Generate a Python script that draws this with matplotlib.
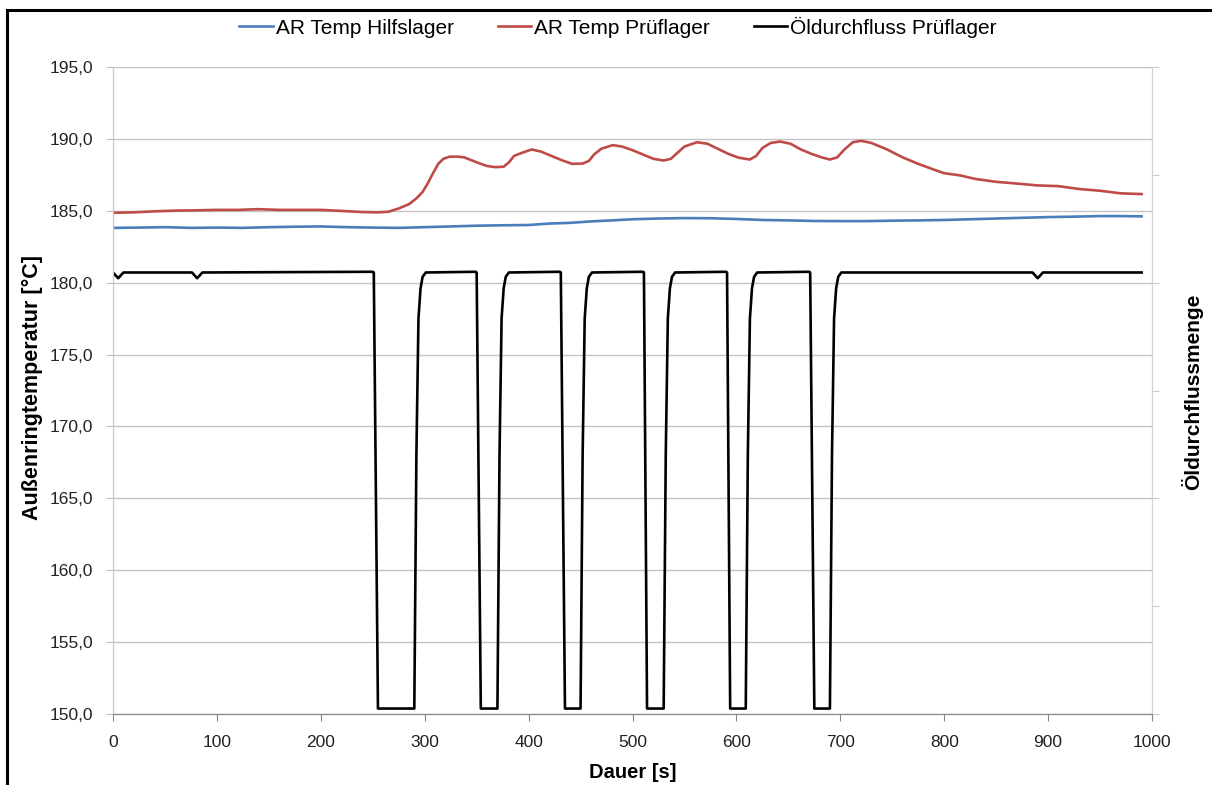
import matplotlib
matplotlib.use("Agg")
import matplotlib.pyplot as plt
from matplotlib.lines import Line2D
import numpy as np

# Messzeitpunkte [s] und Temperaturen [°C]
t_hilf = [0, 25, 50, 75, 100, 125, 150, 175, 200, 225, 250, 275, 300, 325, 350, 375,
          400, 420, 440, 460, 480, 500, 525, 550, 575, 600, 625, 650, 675, 700, 725,
          750, 775, 800, 825, 850, 875, 900, 925, 950, 970, 990]
temp_hilf = [183.8, 183.82, 183.85, 183.8, 183.82, 183.8, 183.85, 183.88, 183.9, 183.85,
             183.82, 183.8, 183.85, 183.9, 183.95, 183.98, 184.0, 184.1, 184.15, 184.25,
             184.32, 184.4, 184.45, 184.48, 184.47, 184.42, 184.35, 184.32, 184.28, 184.27,
             184.27, 184.3, 184.32, 184.35, 184.4, 184.45, 184.5, 184.55, 184.58, 184.62,
             184.62, 184.6]

t_pruef = [0, 20, 40, 60, 80, 100, 120, 140, 160, 180, 200, 220, 240, 255, 265, 275,
           285, 292, 298, 303, 308, 313, 318, 324, 332, 338, 345, 352, 360, 368, 376,
           381, 386, 393, 403, 412, 422, 432, 442, 452, 458, 463, 470, 481, 490, 500,
           510, 520, 530, 537, 543, 550, 562, 572, 582, 592, 602, 613, 619, 625, 633,
           642, 652, 662, 672, 682, 690, 697, 704, 712, 720, 730, 745, 760, 775, 790,
           800, 815, 830, 850, 870, 890, 910, 930, 950, 970, 990]
temp_pruef = [184.85, 184.88, 184.95, 185.0, 185.02, 185.05, 185.05, 185.1, 185.05, 185.05,
              185.05, 184.98, 184.9, 184.88, 184.92, 185.15, 185.45, 185.85, 186.3, 186.9,
              187.6, 188.25, 188.6, 188.75, 188.75, 188.7, 188.5, 188.3, 188.1, 188.02,
              188.05, 188.35, 188.8, 189.0, 189.25, 189.1, 188.8, 188.5, 188.25, 188.27,
              188.45, 188.9, 189.3, 189.55, 189.45, 189.2, 188.9, 188.6, 188.48, 188.6,
              189.0, 189.45, 189.75, 189.65, 189.3, 188.95, 188.68, 188.55, 188.8, 189.35,
              189.7, 189.8, 189.65, 189.25, 188.95, 188.7, 188.55, 188.7, 189.25, 189.75,
              189.85, 189.7, 189.25, 188.7, 188.25, 187.85, 187.6, 187.45, 187.2, 187.0,
              186.88, 186.75, 186.7, 186.5, 186.38, 186.2, 186.15]

# Öldurchfluss Prüflager (Skala wie linke Achse)
t_oel = [0, 5, 10, 76, 81, 86,
         250, 251, 255, 290, 292, 294, 296, 298, 301,
         349, 350, 354, 370, 372, 374, 376, 378, 381,
         430, 431, 435, 450, 452, 454, 456, 458, 461,
         510, 511, 514, 530, 532, 534, 536, 538, 541,
         590, 591, 594, 609, 611, 613, 615, 617, 620,
         670, 671, 675, 690, 692, 694, 696, 698, 701,
         885, 890, 895, 990]
oel = [180.7, 180.3, 180.7, 180.7, 180.3, 180.7,
       180.75, 180.7, 150.4, 150.4, 168.0, 177.5, 179.6, 180.4, 180.7,
       180.75, 180.7, 150.4, 150.4, 168.0, 177.5, 179.6, 180.4, 180.7,
       180.75, 180.7, 150.4, 150.4, 168.0, 177.5, 179.6, 180.4, 180.7,
       180.75, 180.7, 150.4, 150.4, 168.0, 177.5, 179.6, 180.4, 180.7,
       180.75, 180.7, 150.4, 150.4, 168.0, 177.5, 179.6, 180.4, 180.7,
       180.75, 180.7, 150.4, 150.4, 168.0, 177.5, 179.6, 180.4, 180.7,
       180.7, 180.3, 180.7, 180.7]

y_ticks = [150, 155, 160, 165, 170, 175, 180, 185, 190, 195]
x_ticks = [0, 100, 200, 300, 400, 500, 600, 700, 800, 900, 1000]

label_font = 'Liberation Sans'
tick_font = 'Liberation Sans'

fig = plt.figure(figsize=(12.12, 7.85), dpi=100)
ax = fig.add_axes([113 / 1212, 1 - 714.3 / 785, 1039 / 1212, 647.6 / 785])
ax2 = ax.twinx()

l1, = ax.plot(t_hilf, temp_hilf, color='#4A7EBB', lw=1.9, label='AR Temp Hilfslager')
l2, = ax.plot(t_pruef, temp_pruef, color='#BE4B48', lw=1.9, label='AR Temp Prüflager')
l3, = ax2.plot(t_oel, oel, color='black', lw=1.9, label='Öldurchfluss Prüflager')

ax.set_xlim(0, 1000)
ax.set_ylim(150, 195)
ax2.set_ylim(150, 195)
ax.set_xticks(x_ticks)
ax.set_yticks(y_ticks)
ax.set_yticklabels([f'{v:.1f}'.replace('.', ',') for v in y_ticks],
                   fontname=tick_font, fontsize=12.5, color='#222222')
ax.set_xticklabels([str(v) for v in x_ticks], fontname=tick_font, fontsize=12.5,
                   color='#222222')
ax2.set_yticks(np.linspace(150, 195, 7))
ax2.set_yticklabels([])

ax.grid(axis='y', color='#c4c4c4', lw=1.0)
ax.set_axisbelow(True)
ax.tick_params(axis='y', length=5, color='#bbbbbb', pad=9.5)
ax.tick_params(axis='x', length=5, color='#888888', pad=10)
ax2.tick_params(axis='y', length=5, color='#cccccc')

for a in (ax, ax2):
    a.spines['top'].set_visible(False)
    a.spines['left'].set_color('#c8c8c8')
    a.spines['right'].set_color('#d4d4d4')
    a.spines['bottom'].set_color('#888888')

fig.legend(handles=[l1, l2, l3], loc='center', bbox_to_anchor=(618 / 1212, 1 - 27 / 785),
           ncol=3, frameon=False, handlelength=1.6, handletextpad=0.15, columnspacing=2.1,
           prop={'family': label_font, 'size': 15})

fig.text(32 / 1212, 1 - 388 / 785, 'Außenringtemperatur [°C]', rotation=90,
         ha='center', va='center', family=label_font, size=15.5, weight='bold')
fig.text(1192 / 1212, 1 - 392 / 785, 'Öldurchflussmenge', rotation=90,
         ha='center', va='center', family=label_font, size=15, weight='bold')
fig.text(633 / 1212, 1 - 772 / 785, 'Dauer [s]', ha='center', va='center',
         family=label_font, size=14.5, weight='bold')

# Rahmen oben und links
fig.add_artist(Line2D([7 / 1212, 1], [1 - 10 / 785, 1 - 10 / 785], color='black', lw=2.2,
                      transform=fig.transFigure))
fig.add_artist(Line2D([7 / 1212, 7 / 1212], [0, 1 - 10 / 785], color='black', lw=2.2,
                      transform=fig.transFigure))

fig.savefig('out.png', dpi=100)
